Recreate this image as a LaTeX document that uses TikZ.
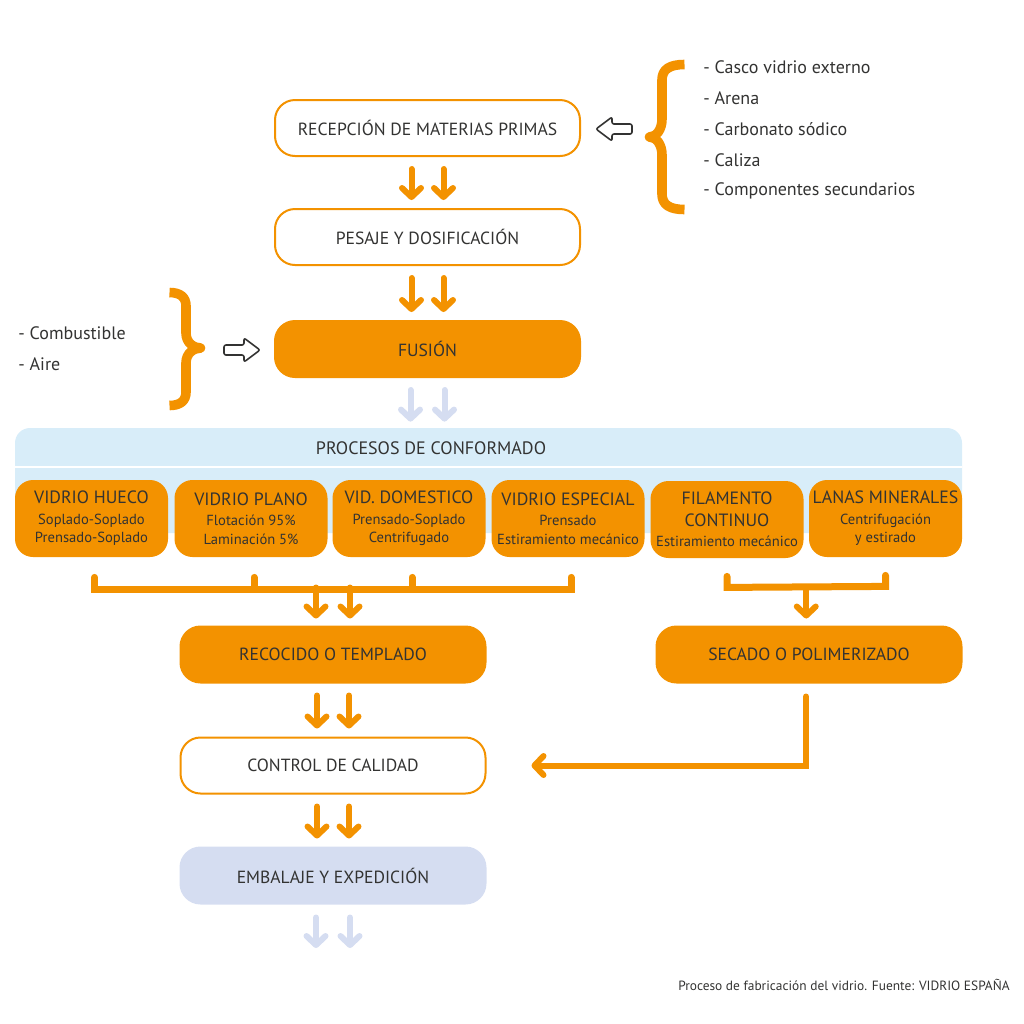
\documentclass[tikz,border=0pt]{standalone}
\usepackage{fontspec}
\setmainfont{PT Sans}
\usetikzlibrary{arrows.meta,calc}

\definecolor{naranja}{HTML}{F39200}
\definecolor{texto}{HTML}{333332}
\definecolor{celeste}{HTML}{D8EDF9}
\definecolor{lila}{HTML}{D5DDF1}

\newcommand{\titproc}{\fontsize{8.9}{9}\selectfont}

\tikzset{
  caja/.style={draw=naranja, line width=1pt, fill=white, rounded corners=10pt,
    minimum width=152.5pt, minimum height=28pt, inner sep=0pt,
    text=texto, font=\fontsize{8.8}{10}\selectfont},
  cajallena/.style={caja, fill=naranja},
  cajalila/.style={caja, draw=lila, fill=lila},
  proceso/.style={fill=naranja, rounded corners=9pt, minimum width=76.5pt,
    minimum height=38.5pt, inner sep=0pt, align=center, text=texto,
    font=\fontsize{7.3}{9.2}\selectfont},
  flecha/.style={draw=naranja, line width=3pt, line cap=round,
    -{Straight Barb[length=4.5pt,width=9.5pt,round]}},
  flechaclara/.style={flecha, draw=lila},
  corchete/.style={draw=naranja, line width=3.5pt, line cap=round, line join=miter},
  llave/.style={draw=naranja, line width=4.8pt, line join=round},
  hueca/.style={draw=texto, line width=0.8pt, fill=white, rounded corners=1pt,
    line join=round},
  item/.style={anchor=west, inner sep=0pt, text=texto,
    font=\fontsize{9}{10}\selectfont},
}

\begin{document}
\begin{tikzpicture}[x=0.5pt, y=-0.5pt]
  \useasboundingbox (0,0) rectangle (1024,1024);

  \node[caja] (recep) at (427.5,128) {RECEPCIÓN DE MATERIAS PRIMAS};
  \node[caja] (pesaje) at (427.5,237) {PESAJE Y DOSIFICACIÓN};
  \node[cajallena] (fusion) at (427.5,349) {FUSIÓN};

  % materias primas
  \draw[llave] (684.5,64.5) .. controls (670,64.5) and (662,69) .. (662,80)
    -- (662,119) .. controls (662,130) and (656,137) .. (649.5,137)
    .. controls (656,137) and (662,144) .. (662,155)
    -- (662,194) .. controls (662,205) and (670,209.5) .. (684.5,209.5);
  \foreach \t [count=\i] in {Casco vidrio externo, Arena, Carbonato sódico,
      Caliza, Componentes secundarios}
    \node[item] (mat\i) at (703,36+31*\i) {- \t};

  % combustible
  \draw[llave] (169.5,292.5) .. controls (180,292.5) and (186,297) .. (186,306)
    -- (186,333) .. controls (186,343) and (194,348) .. (200.5,348)
    .. controls (194,348) and (186,353) .. (186,363)
    -- (186,392) .. controls (186,401) and (180,405.5) .. (169.5,405.5);
  \node[item] (comb) at (18,333) {- Combustible};
  \node[item] (aire) at (18,364) {- Aire};

  \foreach \c/\d in {{(614,129)}/1, {(242,350)}/-1}
    \draw[hueca, shift={\c}] (-18*\d,0) -- (-2*\d,-12) -- (-2*\d,-5) -- (18*\d,-5)
      -- (18*\d,5) -- (-2*\d,5) -- (-2*\d,12) -- cycle;

  % conformado
  \node[fill=celeste, rounded corners=7.5pt, minimum width=473.5pt,
    minimum height=52.5pt, inner sep=0pt] (conf) at (488.5,480.5) {};
  \draw[white, line width=1pt] ($(conf.west)+(0,-13.5)$) -- ($(conf.east)+(0,-13.5)$);
  \node[text=texto, font=\fontsize{9}{10}\selectfont] (titconf) at (431,448)
    {PROCESOS DE CONFORMADO};

  \node[proceso] (hueco) at (91.5,518.5)
    {{\titproc VIDRIO HUECO}\\[1pt]Soplado-Soplado\\Prensado-Soplado};
  \node[proceso] (plano) at (251,518.5)
    {{\titproc VIDRIO PLANO}\\[1pt]Flotación 95\%\\Laminación 5\%};
  \node[proceso] (domestico) at (409,518.5)
    {{\titproc VID. DOMESTICO}\\[1pt]Prensado-Soplado\\Centrifugado};
  \node[proceso] (especial) at (568,518.5)
    {{\titproc VIDRIO ESPECIAL}\\[1pt]Prensado\\Estiramiento mecánico};
  \node[proceso] (filamento) at (727,519.5)
    {{\titproc FILAMENTO}\\[1.5pt]{\titproc CONTINUO}\\[1pt]Estiramiento mecánico};
  \node[proceso] (lanas) at (885.5,518.5)
    {{\titproc LANAS MINERALES}\\[1pt]Centrifugación\\y estirado};

  \node[cajallena] (recocido) at (333,654.5) {RECOCIDO O TEMPLADO};
  \node[cajallena] (secado) at (809,654.5) {SECADO O POLIMERIZADO};
  \node[caja] (control) at (333,765.5) {CONTROL DE CALIDAD};
  \node[cajalila] (embalaje) at (333,875.5) {EMBALAJE Y EXPEDICIÓN};
  \coordinate (fin) at (333,948);

  % flechas
  \foreach \a/\b in {recep/pesaje, pesaje/fusion, recocido/control, control/embalaje}
    \foreach \dx in {-16,16}
      \draw[flecha] ($(\a.south)+(\dx,12)$) -- ($(\b.north)+(\dx,-8)$);
  \foreach \dx in {-17,17} {
    \draw[flechaclara] ($(fusion.south)+(\dx,12)$) -- ($(conf.north)+(-61+\dx,-6)$);
    \draw[flechaclara] ($(embalaje.south)+(\dx,13)$) -- ($(fin)+(\dx,0)$);
  }

  \draw[corchete] ($(hueco.south)+(3,20)$) -- ($(hueco.south)+(3,32)$)
    -- ($(especial.south)+(3,32)$) -- ($(especial.south)+(3,20)$);
  \foreach \n in {plano, domestico}
    \draw[corchete] ($(\n.south)+(3,20)$) -- ($(\n.south)+(3,32)$);
  \coordinate (brkL) at ($(recocido.north)+(0,-38)$);
  \foreach \dx in {-17,17}
    \draw[flecha] ($(brkL)+(\dx,0)$) -- ($(recocido.north)+(\dx,-7)$);

  \draw[corchete] ($(filamento.south)+(0,18)$) -- ($(filamento.south)+(0,29)$)
    -- ($(lanas.south)+(0,29)$) -- ($(lanas.south)+(0,18)$);
  \coordinate (brkR) at ($(filamento.south)!0.5!(lanas.south)+(0,29)$);
  \draw[flecha] (brkR) -- ($(brkR |- secado.north)+(0,-7)$);

  \draw[flecha, line cap=round, line join=miter]
    ($(secado.south)+(-3,13)$) |- ($(control.east)+(45,0)$);

  \node[anchor=east, inner sep=0pt, text=texto, font=\fontsize{6.7}{8}\selectfont]
    (fuente) at (1010,985) {Proceso de fabricación del vidrio. Fuente: VIDRIO ESPAÑA};
\end{tikzpicture}
\end{document}
